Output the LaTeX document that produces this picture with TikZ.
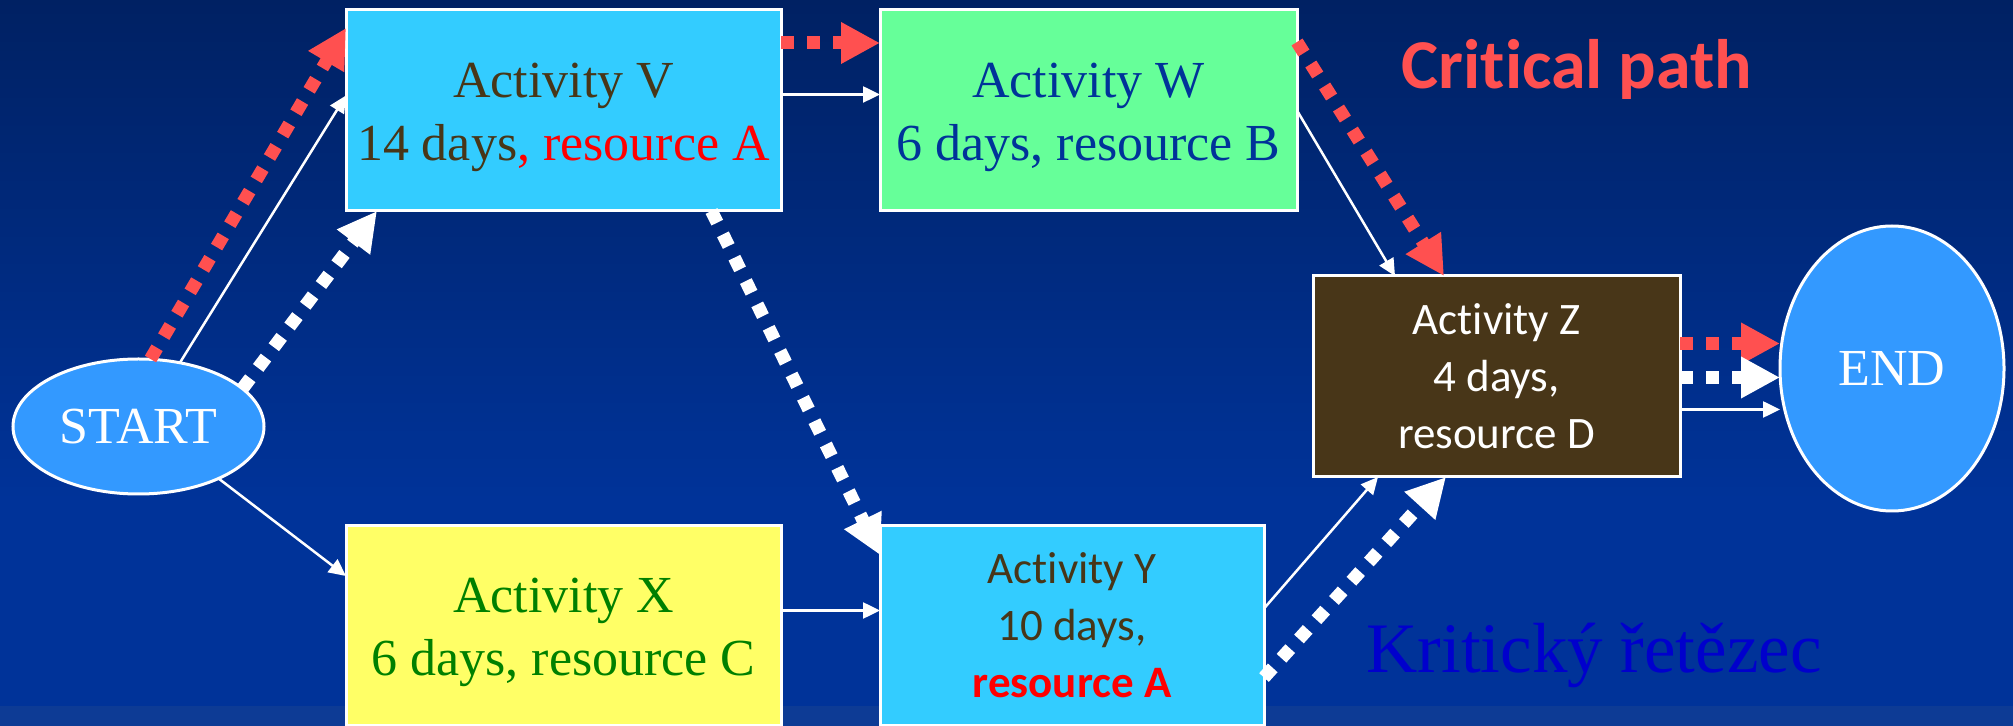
\documentclass[tikz,border=0pt]{standalone}
\usepackage{fontspec}
\setmainfont{Liberation Serif}
\newfontfamily\calibri[Ligatures=NoCommon]{Carlito}
\usepackage{xcolor}
\usetikzlibrary{arrows.meta,calc,shapes.geometric}
\definecolor{bgtop}{RGB}{0,33,99}
\definecolor{bgbot}{RGB}{0,51,153}
\definecolor{bgstrip}{RGB}{13,59,149}
\definecolor{critred}{RGB}{255,80,80}
\definecolor{actbrown}{RGB}{72,54,24}
\definecolor{actcyan}{RGB}{51,204,255}
\definecolor{actgreen}{RGB}{102,255,153}
\definecolor{actyellow}{RGB}{255,255,102}
\definecolor{ovalblue}{RGB}{51,153,255}
\definecolor{textnavy}{RGB}{0,51,153}
\definecolor{textgreen}{RGB}{0,128,0}
\definecolor{chainblue}{RGB}{0,0,204}

\begin{document}
\begin{tikzpicture}[x=0.5pt, y=-0.5pt,
  act/.style={draw=white, line width=1.5pt, rectangle, inner sep=0pt, outer sep=0pt, align=center},
  serifact/.style={act, font=\fontsize{26}{31.5}\selectfont, text height=56pt},
  sansact/.style={act, font=\calibri\fontsize{22.5}{28.5}\selectfont},
  oval/.style={draw=white, line width=1.5pt, ellipse, fill=ovalblue, inner sep=0pt, outer sep=0pt, text=white, font=\fontsize{26}{31.5}\selectfont},
  link/.style={white, line width=1.25pt, -{Triangle[length=8.5pt,width=8pt]}},
  crit/.style={line width=6.5pt, dash pattern=on 6.5pt off 6.5pt, -{Triangle[length=19.5pt,width=19.5pt]}}]
\useasboundingbox (0,0) rectangle (2013,726);
\clip (0,0) rectangle (2013,726);
\shade[top color=bgtop, bottom color=bgbot] (0,0) rectangle (2013,500);
\fill[bgbot] (0,500) rectangle (2013,706);
\fill[bgstrip] (0,706) rectangle (2013,726);

\node[serifact, fill=actcyan, text=actbrown, minimum width=217.5pt, minimum height=100.5pt] (V) at (563.5,110.5) {Activity V\\14 days\textcolor{red}{, resource A}};
\node[serifact, fill=actgreen, text=textnavy, minimum width=208.5pt, minimum height=100.5pt] (W) at (1088.5,110.5) {Activity W\\6 days, resource B};
\node[serifact, fill=actyellow, text=textgreen, minimum width=217.5pt, minimum height=99.5pt] (X) at (563.5,625.5) {Activity X\\6 days, resource C};
\node[sansact, fill=actcyan, text=actbrown, minimum width=192pt, minimum height=99.5pt] (Y) at (1072,625.5) {Activity Y\\10 days,\\\textcolor{red}{\bfseries resource A}};
\node[sansact, fill=actbrown, text=white, minimum width=183.5pt, minimum height=100.5pt] (Z) at (1496.5,376.5) {Activity Z\\4 days,\\resource D};
\node[oval, minimum width=125.5pt, minimum height=67.5pt] (START) at (138.5,426.5) {START};
\node[oval, minimum width=112pt, minimum height=142.5pt] (END) at (1892,368.5) {END};
\node[anchor=base, text=critred, font=\calibri\bfseries\fontsize{35}{42}\selectfont] (critlabel) at (1577,89) {Critical path};
\node[anchor=base, text=chainblue, font=\fontsize{35.5}{42}\selectfont] (chainlabel) at (1594,672) {Kritický řetězec};

\draw[crit, critred] ($(START.north)+(12,0)$) -- ($(V.north west)+(0,18)$);
\draw[link] (START.57) -- ($(V.west)+(0,-15)$);
\draw[crit, white] (START.20) -- ($(V.south west)+(31,0)$);
\draw[link] (START.-33) -- ($(X.north west)+(0,50)$);
\draw[crit, critred] ($(V.north east)+(0,33)$) -- ($(W.north west)+(0,33)$);
\draw[link] ($(V.east)+(0,-16)$) -- ($(W.west)+(0,-16)$);
\draw[crit, white] ($(V.south)+(148,0)$) -- ($(Y.north west)+(0,29)$);
\draw[link] ($(X.east)+(0,-15)$) -- ($(Y.west)+(0,-15)$);
\draw[crit, critred] ($(W.north east)+(0,32)$) -- ($(Z.north west)+(131,0)$);
\draw[link] (W.east) -- ($(Z.north west)+(82,0)$);
\draw[link] ($(Y.east)+(0,-17)$) -- ($(Z.south west)+(65,0)$);
\draw[crit, white] ($(Y.east)+(0,52)$) -- ($(Z.south west)+(133,0)$);
\draw[crit, critred] ($(Z.east)+(0,-33)$) -- ($(END.west)+(0,-25)$);
\draw[crit, white] ($(Z.east)+(0,1)$) -- ($(END.west)+(0,9)$);
\draw[link] ($(Z.east)+(0,33)$) -- ($(END.west)+(0,41)$);
\end{tikzpicture}
\end{document}
